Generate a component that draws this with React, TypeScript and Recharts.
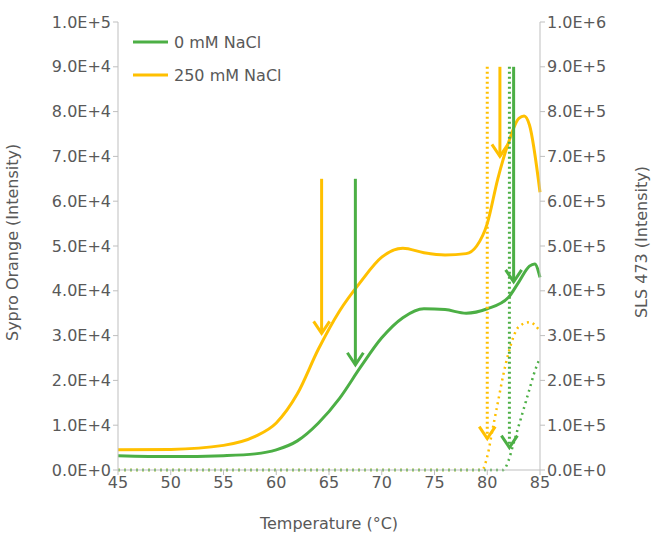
import { LineChart, Line, XAxis, YAxis, ReferenceLine } from "recharts";

const temps0 = [45, 50, 55, 58, 60, 62, 64, 66, 68, 70, 72, 74, 76, 78, 80, 82, 83, 84, 84.5, 85];
const sypro0 = [3200, 3000, 3200, 3600, 4500, 6500, 10500, 16000, 23000, 29500, 34000, 36000, 35800, 35000, 36000, 38500, 42000, 45500, 46000, 43000];
const temps250 = [45, 50, 55, 58, 60, 62, 64, 66, 68, 70, 72, 74, 76, 78, 79, 80, 81, 82, 83, 83.5, 84, 85];
const sypro250 = [4500, 4600, 5500, 7500, 10500, 17000, 27000, 35500, 42000, 47500, 49500, 48500, 48000, 48300, 50000, 55000, 65000, 73000, 78500, 79000, 77000, 62000];
const slsTemps250 = [45, 79.5, 80, 80.5, 81, 81.5, 82, 83, 84, 85];
const sls250 = [0, 0, 30000, 90000, 150000, 210000, 260000, 320000, 330000, 310000];
const slsTemps0 = [45, 81.5, 82, 82.5, 83, 83.5, 84, 84.5, 85];
const sls0 = [0, 0, 20000, 60000, 100000, 140000, 180000, 220000, 250000];

// arrows: [temperature, from, to, colour, dotted]
const arrows: [number, number, number, string, boolean][] = [
  [64.3, 65000, 30500, "#FFC000", false],
  [67.5, 65000, 23500, "#4CAF45", false],
  [81.2, 90000, 70000, "#FFC000", false],
  [82.5, 90000, 42000, "#4CAF45", false],
  [80.0, 90000, 7000, "#FFC000", true],
  [82.1, 90000, 5000, "#4CAF45", true],
];

const xTicks = [45, 50, 55, 60, 65, 70, 75, 80, 85];
const leftTicks = [0, 10000, 20000, 30000, 40000, 50000, 60000, 70000, 80000, 90000, 100000];
const rightTicks = leftTicks.map((v) => v * 10);

const toRows = (t: number[], v: number[]) => t.map((x, i) => ({ t: x, v: v[i] }));
const fmt = (v: number) => v.toExponential(1).toUpperCase();

const GREEN = "#4CAF45";
const ORANGE = "#FFC000";
const GREY = "#595959";
const tick = { fill: GREY, fontSize: 16, fontFamily: "DejaVu Sans" };

function Arrow(props: any) {
  const { x1, y1, x2, y2, stroke, dotted } = props;
  const h = 12;
  return (
    <g>
      <line x1={x1} y1={y1} x2={x2} y2={y2} stroke={stroke} strokeWidth={3} strokeDasharray={dotted ? "2 3" : undefined} />
      <polyline points={`${x2 - 8},${y2 - h} ${x2},${y2} ${x2 + 8},${y2 - h}`} fill="none" stroke={stroke} strokeWidth={3} />
    </g>
  );
}

export default function App() {
  return (
    <div style={{ position: "absolute", left: 0, top: 0 }}>
      <LineChart width={655} height={537} margin={{ top: 22, right: 0, bottom: 0, left: 0 }}>
        <XAxis dataKey="t" type="number" domain={[45, 85]} ticks={xTicks} allowDuplicatedCategory={false}
          height={67} stroke="#BFBFBF" tick={tick} tickSize={5}
          label={{ value: "Temperature (°C)", position: "insideBottom", offset: 8, fill: GREY, fontSize: 16, fontFamily: "DejaVu Sans" }} />
        <YAxis yAxisId="l" domain={[0, 100000]} ticks={leftTicks} tickFormatter={fmt} width={118}
          stroke="#BFBFBF" tick={tick} tickSize={5}
          label={{ value: "Sypro Orange (Intensity)", angle: -90, position: "insideLeft", offset: 12, dy: 95, fill: GREY, fontSize: 16, fontFamily: "DejaVu Sans" }} />
        <YAxis yAxisId="r" orientation="right" domain={[0, 1000000]} ticks={rightTicks} tickFormatter={fmt} width={115}
          stroke="#BFBFBF" tick={tick} tickSize={5}
          label={{ value: "SLS 473 (Intensity)", angle: -90, position: "insideRight", offset: 14, dy: -80, fill: GREY, fontSize: 16, fontFamily: "DejaVu Sans" }} />
        <Line yAxisId="r" data={toRows(slsTemps250, sls250)} dataKey="v" stroke={ORANGE} strokeWidth={2.5} strokeDasharray="2 4" dot={false} type="monotone" isAnimationActive={false} />
        <Line yAxisId="r" data={toRows(slsTemps0, sls0)} dataKey="v" stroke={GREEN} strokeWidth={2.5} strokeDasharray="2 4" dot={false} type="monotone" isAnimationActive={false} />
        <Line yAxisId="l" data={toRows(temps250, sypro250)} dataKey="v" stroke={ORANGE} strokeWidth={3} dot={false} type="monotone" isAnimationActive={false} />
        <Line yAxisId="l" data={toRows(temps0, sypro0)} dataKey="v" stroke={GREEN} strokeWidth={3} dot={false} type="monotone" isAnimationActive={false} />
        {arrows.map(([t, from, to, c, d], i) => (
          <ReferenceLine key={i} yAxisId="l" segment={[{ x: t, y: from }, { x: t, y: to }]}
            shape={(p: any) => <Arrow {...p} stroke={c} dotted={d} />} />
        ))}
        <g fontFamily="DejaVu Sans" fontSize={16} fill={GREY}>
          <line x1={133} x2={168} y1={42} y2={42} stroke={GREEN} strokeWidth={3} />
          <text x={174} y={48}>0 mM NaCl</text>
          <line x1={133} x2={168} y1={75} y2={75} stroke={ORANGE} strokeWidth={3} />
          <text x={174} y={81}>250 mM NaCl</text>
        </g>
      </LineChart>
    </div>
  );
}
